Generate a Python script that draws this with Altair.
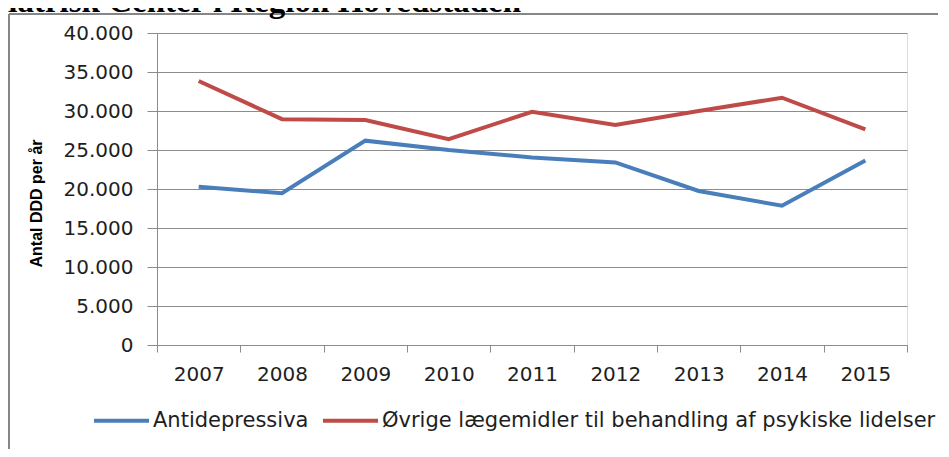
import altair as alt
import pandas as pd

years = ["2007", "2008", "2009", "2010", "2011", "2012", "2013", "2014", "2015"]
antidepressiva = [20300, 19450, 26200, 25000, 24050, 23400, 19750, 17850, 23650]
ovrige = [33850, 28950, 28850, 26400, 29900, 28200, 30000, 31700, 27650]
series_names = ["Antidepressiva", "Øvrige lægemidler til behandling af psykiske lidelser"]
series_colors = ["#4a7ebb", "#be4b48"]
y_ticks = [0, 5000, 10000, 15000, 20000, 25000, 30000, 35000, 40000]
y_title = "Antal DDD per år"
chart_title = "Psykiatrisk Center i Region Hovedstaden"

rows = []
for name, vals in zip(series_names, [antidepressiva, ovrige]):
    for yr, v in zip(years, vals):
        rows.append({"year": yr, "value": v, "series": name})
df = pd.DataFrame(rows)

label_font = "DejaVu Sans"
label_color = "#1e1e1e"
grid_color = "#8c8c8c"

lines = alt.Chart(df).mark_line(strokeWidth=4).encode(
    x=alt.X("year:N", bandPosition=0.5,
            scale=alt.Scale(type="band", domain=years, paddingInner=0, paddingOuter=0),
            axis=alt.Axis(title=None, labelAngle=0, tickBand="extent", grid=False,
                          domainColor=grid_color, tickColor=grid_color, tickSize=7,
                          labelFont=label_font, labelFontSize=20, labelColor=label_color,
                          labelPadding=12)),
    y=alt.Y("value:Q",
            scale=alt.Scale(domain=[0, 40000], nice=False),
            axis=alt.Axis(values=y_ticks, title=y_title,
                          labelExpr="replace(format(datum.value, ','), ',', '.')",
                          grid=True, gridColor=grid_color, domainColor=grid_color,
                          tickColor=grid_color, tickSize=10, labelPadding=14,
                          labelFont=label_font, labelFontSize=20, labelColor=label_color,
                          titleFont="Liberation Sans",
                          titleFontSize=16, titleFontWeight="bold", titleColor="#000000",
                          titleAngle=270, titleX=-121, titleY=170,
                          titleAlign="center", titleBaseline="middle")),
    color=alt.Color("series:N",
                    scale=alt.Scale(domain=series_names, range=series_colors),
                    legend=alt.Legend(title=None, orient="none", legendX=-65, legendY=358,
                                      direction="horizontal", symbolType="stroke",
                                      symbolSize=3025, symbolStrokeWidth=4,
                                      labelFont=label_font, labelFontSize=21,
                                      labelColor=label_color, labelLimit=800,
                                      labelOffset=2, columnPadding=6)),
)

title_df = pd.DataFrame({"t": [chart_title]})
title = alt.Chart(title_df).mark_text(
    font="Liberation Serif", fontSize=33, fontWeight="bold", color="#000000",
    align="right", baseline="alphabetic"
).encode(x=alt.value(364), y=alt.value(-21), text="t:N")

frame_df = pd.DataFrame({"a": [0]})
frame_left = alt.Chart(frame_df).mark_rule(color="#868686", strokeWidth=2).encode(
    x=alt.value(-148), y=alt.value(-19), y2=alt.value(430))
frame_top = alt.Chart(frame_df).mark_rule(color="#868686", strokeWidth=2).encode(
    x=alt.value(-148), x2=alt.value(788), y=alt.value(-19))

chart = alt.layer(frame_left, frame_top, title, lines).properties(
    width=750, height=312,
    padding={"left": 149, "top": 25, "right": 31, "bottom": 104},
    autosize=alt.AutoSizeParams(type="none"),
).configure_view(stroke=None).configure(background="white")

chart.save("out.html", embed_options={"renderer": "svg", "actions": False})
